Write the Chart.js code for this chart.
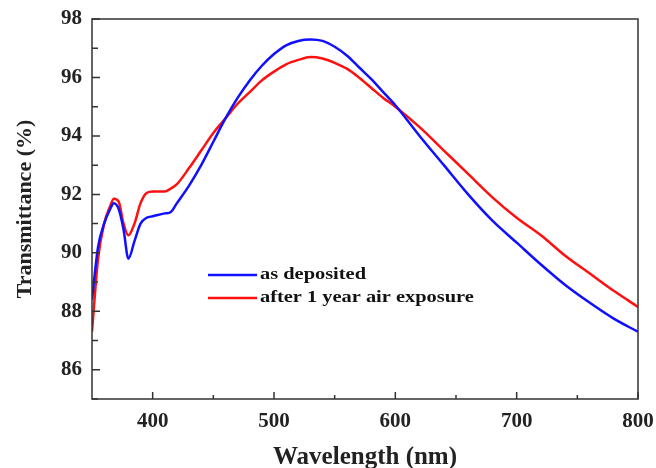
<!DOCTYPE html>
<html>
<head>
<meta charset="utf-8">
<script src="https://cdn.jsdelivr.net/npm/chart.js@4/dist/chart.umd.min.js"></script>
<style>
  html, body { margin: 0; padding: 0; background: #fff; }
  #wrap { width: 656px; height: 468px; }
</style>
</head>
<body>
<div id="wrap"><canvas id="chart" width="656" height="468"></canvas></div>
<script>
// ---------- DATA ----------
const wavelength = [350, 355, 360, 365, 368, 372, 376, 380, 385, 390, 395, 400, 410, 415, 420, 430, 440, 450, 460, 470, 480, 490, 500, 510, 520, 530, 540, 550, 560, 570, 580, 590, 600, 620, 640, 660, 680, 700, 720, 740, 760, 780, 800];
const asDeposited = [88.4, 90.2, 91.0, 91.5, 91.7, 91.5, 90.8, 89.8, 90.4, 91.0, 91.2, 91.25, 91.35, 91.4, 91.7, 92.3, 93.0, 93.8, 94.6, 95.3, 95.9, 96.4, 96.8, 97.1, 97.25, 97.3, 97.25, 97.05, 96.75, 96.35, 95.95, 95.5, 95.05, 94.0, 93.0, 92.0, 91.1, 90.35, 89.6, 88.9, 88.3, 87.75, 87.3];
const afterExposure = [87.3, 89.8, 91.0, 91.6, 91.85, 91.75, 91.0, 90.6, 91.0, 91.7, 92.05, 92.1, 92.1, 92.2, 92.35, 92.9, 93.5, 94.1, 94.6, 95.1, 95.5, 95.9, 96.2, 96.45, 96.6, 96.7, 96.65, 96.5, 96.3, 96.0, 95.65, 95.3, 95.0, 94.3, 93.5, 92.7, 91.9, 91.2, 90.6, 89.9, 89.3, 88.7, 88.15];
const seriesLabels = ['as deposited', 'after 1 year air exposure'];
const seriesColors = ['#1010ff', '#ff1010'];
const xTicks = [400, 500, 600, 700, 800];
const xMinor = [450, 550, 650, 750];
const yTicks = [86, 88, 90, 92, 94, 96, 98];
const yMinor = [85, 87, 89, 91, 93, 95, 97];

const FONT = "'Liberation Serif', 'Times New Roman', serif";
const AXIS = '#333';

// ticks drawn inward + box border + legend inside the plot
const frame = {
  id: 'frame',
  afterDatasetsDraw(chart) {
    const { ctx, chartArea: a, scales: { x, y } } = chart;
    ctx.save();
    ctx.strokeStyle = AXIS;
    ctx.lineWidth = 1.5;
    ctx.strokeRect(a.left, a.top, a.right - a.left, a.bottom - a.top);
    ctx.beginPath();
    xTicks.forEach(v => { const p = x.getPixelForValue(v); ctx.moveTo(p, a.bottom); ctx.lineTo(p, a.bottom - 7); });
    xMinor.forEach(v => { const p = x.getPixelForValue(v); ctx.moveTo(p, a.bottom); ctx.lineTo(p, a.bottom - 4); });
    yTicks.forEach(v => { const p = y.getPixelForValue(v); ctx.moveTo(a.left, p); ctx.lineTo(a.left + 8, p); });
    yMinor.forEach(v => { const p = y.getPixelForValue(v); ctx.moveTo(a.left, p); ctx.lineTo(a.left + 6, p); });
    ctx.stroke();

    ctx.font = 'bold 17px ' + FONT;
    ctx.textBaseline = 'middle';
    chart.data.datasets.forEach((ds, i) => {
      const ly = 275 + i * 23;
      ctx.strokeStyle = ds.borderColor;
      ctx.lineWidth = 2.5;
      ctx.beginPath(); ctx.moveTo(208, ly); ctx.lineTo(257, ly); ctx.stroke();
      ctx.save();
      ctx.translate(260, ly);
      ctx.scale(1.2, 1);
      ctx.fillStyle = '#111';
      ctx.fillText(ds.label, 0, 0);
      ctx.restore();
    });
    ctx.restore();
  }
};

const mk = (vals, i) => ({
  label: seriesLabels[i],
  data: wavelength.map((w, k) => ({ x: w, y: vals[k] })),
  borderColor: seriesColors[i],
  borderWidth: 2.5,
  pointRadius: 0,
  tension: 0.4,
  cubicInterpolationMode: 'monotone',
  fill: false
});

new Chart(document.getElementById('chart'), {
  type: 'line',
  data: { datasets: [mk(asDeposited, 0), mk(afterExposure, 1)] },
  options: {
    responsive: false,
    animation: false,
    layout: { padding: { left: 0, right: 18, top: 19, bottom: 0 } },
    plugins: { legend: { display: false }, tooltip: { enabled: false } },
    scales: {
      x: {
        type: 'linear',
        min: 350, max: 800,
        afterBuildTicks: s => { s.ticks = xTicks.map(v => ({ value: v })); },
        afterFit: s => { s.height = 69; s.paddingLeft = 0; s.paddingRight = 0; },
        grid: { display: false, drawTicks: false },
        border: { display: false },
        ticks: { padding: 10, color: '#222', font: { family: FONT, size: 21, weight: 'bold' }, maxRotation: 0 },
        title: { display: true, text: 'Wavelength (nm)', color: '#222', padding: { top: 4, bottom: -5 }, font: { family: FONT, size: 25, weight: 'bold' } }
      },
      y: {
        min: 85, max: 98,
        afterBuildTicks: s => { s.ticks = yTicks.map(v => ({ value: v })); },
        afterFit: s => { s.width = 92; s.paddingTop = 0; s.paddingBottom = 0; },
        grid: { display: false, drawTicks: false },
        border: { display: false },
        ticks: { padding: 10, color: '#222', font: { family: FONT, size: 21, weight: 'bold' } },
        title: { display: true, text: 'Transmittance (%)', color: '#222', padding: { top: 12, bottom: 0 }, font: { family: FONT, size: 22, weight: 'bold' } }
      }
    }
  },
  plugins: [frame]
});
</script>
</body>
</html>
